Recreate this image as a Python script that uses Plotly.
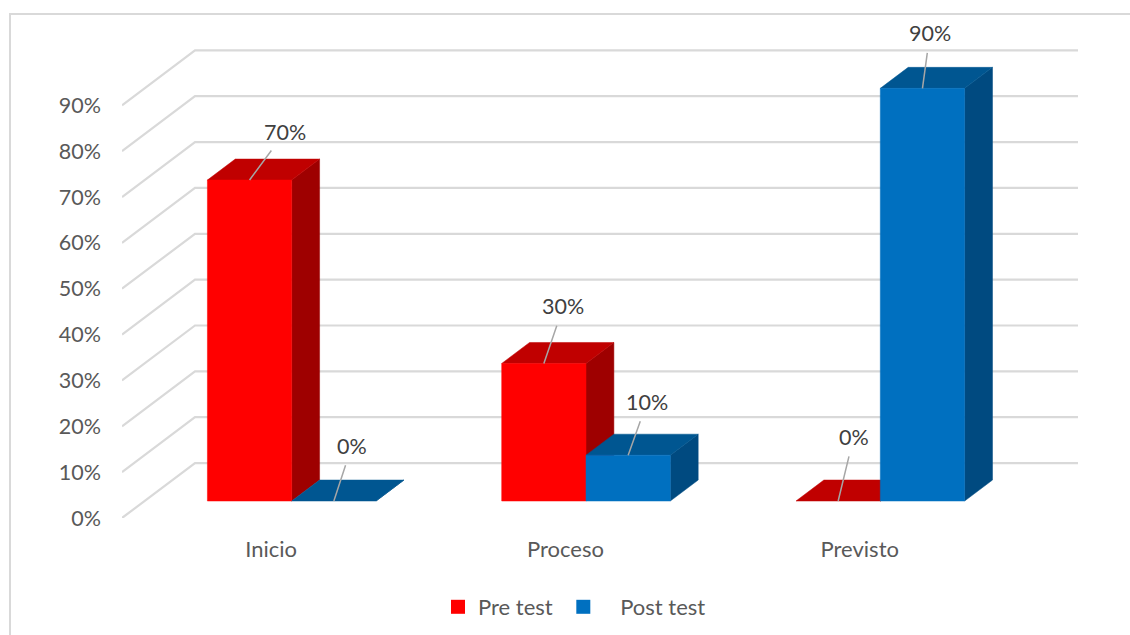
import plotly.graph_objects as go

categories = ["Inicio", "Proceso", "Previsto"]
pre_test = [0.70, 0.30, 0.00]
post_test = [0.00, 0.10, 0.90]
tick_values = [0.0, 0.1, 0.2, 0.3, 0.4, 0.5, 0.6, 0.7, 0.8, 0.9]
series_names = ["Pre test\u00a0", "\u00a0\u00a0\u00a0Post test"]
# pixel offsets of the value labels from each bar's top-front centre
pre_label_offsets = [(35.5, -48), (19.5, -57), (15.5, -64)]
post_label_offsets = [(18, -55), (19, -53), (7.5, -55)]

W, H = 1130, 635
L, R, T, B = 122, 1078, 20, 518.5
PX_X = 294.3
PX_Y = 459.0
X_MIN = -0.5
X_MAX = X_MIN + (R - L) / PX_X
Y_MAX = (B - T) / PX_Y
FLOOR_DX = 73 / PX_X
FLOOR_DY = 55 / PX_Y
BAR_W = 84.3 / PX_X
D0, D1 = 17 / 55, 38 / 55

GRID = "#D9D9D9"
FONT = "Lato, Carlito, sans-serif"
TXT = "#595959"
PRE = ("#FF0000", "#C00000", "#9E0000")
POST = ("#0070C0", "#005691", "#004A80")


def proj(x, v, d):
    return x + FLOOR_DX * d, v + FLOOR_DY * d


def poly(points, color):
    xs = [p[0] for p in points] + [points[0][0]]
    ys = [p[1] for p in points] + [points[0][1]]
    return go.Scatter(x=xs, y=ys, mode="lines", fill="toself", fillcolor=color,
                      line=dict(color=color, width=0.5), showlegend=False,
                      hoverinfo="skip")


fig = go.Figure()

# gridlines: side wall + back wall
for t in tick_values:
    a = proj(X_MIN, t, 0)
    b = proj(X_MIN, t, 1)
    c = (X_MAX, b[1])
    fig.add_trace(go.Scatter(x=[a[0], b[0], c[0]], y=[a[1], b[1], c[1]], mode="lines",
                             line=dict(color=GRID, width=2.2), showlegend=False,
                             hoverinfo="skip"))

annotations = []


def add_bar(x0, value, colors, offset):
    x1 = x0 + BAR_W
    f0, f1 = proj(x0, 0, D0), proj(x1, 0, D0)
    ft0, ft1 = proj(x0, value, D0), proj(x1, value, D0)
    b0, b1 = proj(x0, value, D1), proj(x1, value, D1)
    br = proj(x1, 0, D1)
    fig.add_trace(poly([f1, br, b1, ft1], colors[2]))
    fig.add_trace(poly([ft0, b0, b1, ft1], colors[1]))
    if value > 0:
        fig.add_trace(poly([f0, f1, ft1, ft0], colors[0]))
    annotations.append(dict(
        x=(ft0[0] + ft1[0]) / 2, y=ft0[1], xref="x", yref="y",
        text=f"{value:.0%}", showarrow=True, arrowhead=0, arrowwidth=1.5,
        arrowcolor="#A6A6A6", ax=offset[0], ay=offset[1], axref="pixel", ayref="pixel",
        startstandoff=5, font=dict(family=FONT, size=21.5, color="#404040")))


for i, _ in enumerate(categories):
    add_bar(i - BAR_W, pre_test[i], PRE, pre_label_offsets[i])
    add_bar(float(i), post_test[i], POST, post_label_offsets[i])

# legend entries
for name, colors in zip(series_names, (PRE, POST)):
    fig.add_trace(go.Scatter(x=[None], y=[None], mode="markers", name=name,
                             marker=dict(symbol="square", size=14, color=colors[0])))


def px(v):
    return (v - L) / (R - L)


def py(v):
    return (B - v) / (B - T)


fig.update_layout(
    width=W, height=H, autosize=False,
    margin=dict(l=L, r=W - R, t=T, b=H - B),
    paper_bgcolor="white", plot_bgcolor="rgba(0,0,0,0)",
    font=dict(family=FONT, size=22, color=TXT),
    hovermode=False,
    annotations=annotations,
    shapes=[
        dict(type="line", xref="paper", yref="paper", x0=px(10), x1=px(10), y0=py(640), y1=py(14),
             line=dict(color=GRID, width=2), layer="below"),
        dict(type="line", xref="paper", yref="paper", x0=px(9), x1=px(1135), y0=py(14), y1=py(14),
             line=dict(color=GRID, width=2), layer="below"),
    ],
    xaxis=dict(range=[X_MIN, X_MAX], tickvals=[0, 1, 2], ticktext=categories,
               showgrid=False, zeroline=False, showline=False, ticks="",
               ticklabelstandoff=16, ticklabelshift=2,
               tickfont=dict(family=FONT, size=22, color=TXT),
               fixedrange=True),
    yaxis=dict(range=[0, Y_MAX], tickvals=tick_values, tickformat=".0%",
               showgrid=False, zeroline=False, showline=False, ticks="",
               ticklabelstandoff=20, tickfont=dict(family=FONT, size=21.5, color=TXT),
               fixedrange=True),
    legend=dict(orientation="h", xref="container", yref="container",
                x=438 / W, xanchor="left", y=1 - 607 / H, yanchor="middle",
                font=dict(family=FONT, size=22, color=TXT),
                bgcolor="rgba(0,0,0,0)"),
)

fig.write_html("out.html", post_script="document.body.style.margin='0';document.body.style.overflow='hidden';",
               config=dict(displayModeBar=False))
